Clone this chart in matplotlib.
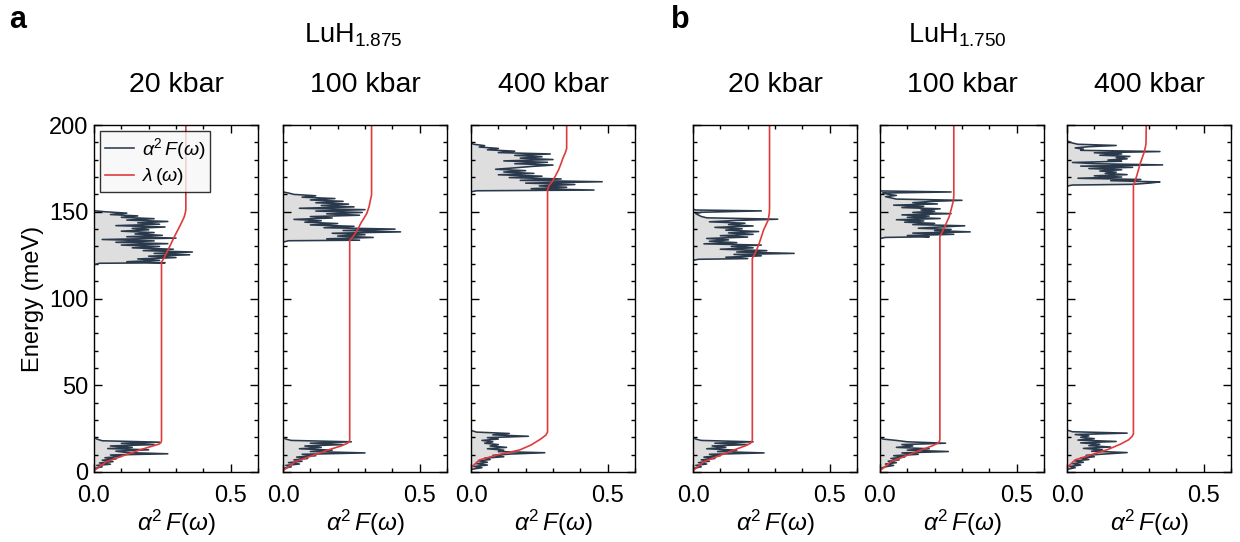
import numpy as np
import matplotlib
matplotlib.use("Agg")
import matplotlib.pyplot as plt
from matplotlib.ticker import MultipleLocator

plt.rcParams['font.family'] = ['Liberation Sans', 'DejaVu Sans']
plt.rcParams['mathtext.fontset'] = 'custom'
plt.rcParams['mathtext.rm'] = 'Liberation Sans'
plt.rcParams['mathtext.it'] = 'Liberation Sans:italic'

pressures = ["20 kbar", "100 kbar", "400 kbar"]
compounds = ["LuH$_{1.875}$", "LuH$_{1.750}$"]
panel_letters = ["a", "b"]

# a2F(w): low energy (Lu) band and high energy (H) band, energies in meV
p1_low_E = [2.0, 3.0, 3.8, 4.5, 5.2, 6.0, 6.8, 7.5, 8.2, 9.0, 9.8, 10.5, 11.2, 12.0, 12.8, 13.5, 14.2, 15.0, 15.8, 16.5, 17.2, 18.0, 19.0, 20.0]
p1_low_a = [0.0, 0.03, 0.01, 0.06, 0.02, 0.07, 0.03, 0.08, 0.04, 0.10, 0.06, 0.27, 0.12, 0.08, 0.20, 0.05, 0.14, 0.06, 0.22, 0.10, 0.24, 0.03, 0.01, 0.0]
p1_high_E = [119.5, 120.3, 120.6, 121.2, 122.0, 122.8, 123.6, 124.4, 125.2, 126.0, 126.8, 127.6, 128.4, 129.2, 130.0, 130.8, 131.6, 132.4, 133.2, 134.0, 134.8, 135.6, 136.4, 137.2, 138.0, 138.8, 139.6, 140.4, 141.2, 142.0, 142.8, 143.6, 144.4, 145.2, 146.0, 146.8, 147.6, 148.4, 149.2, 150.0, 150.6]
p1_high_a = [0.0, 0.02, 0.26, 0.12, 0.24, 0.16, 0.30, 0.20, 0.35, 0.22, 0.36, 0.18, 0.29, 0.14, 0.24, 0.10, 0.27, 0.08, 0.22, 0.03, 0.30, 0.12, 0.25, 0.15, 0.22, 0.10, 0.20, 0.14, 0.26, 0.08, 0.24, 0.16, 0.27, 0.12, 0.22, 0.10, 0.16, 0.06, 0.12, 0.04, 0.0]
p1_lam_E = [0, 0.8, 3.0, 5.9, 9.0, 12.7, 15.0, 16.1, 17.0, 18.0, 121.0, 123.0, 127.0, 131.0, 135.0, 139.0, 143.0, 147.0, 150.0, 152.0, 200]
p1_lam = [0, 0.0, 0.02, 0.045, 0.10, 0.167, 0.215, 0.238, 0.245, 0.247, 0.247, 0.255, 0.268, 0.28, 0.292, 0.305, 0.318, 0.33, 0.335, 0.336, 0.336]

p2_low_E = [2.0, 3.0, 3.8, 4.6, 5.4, 6.2, 7.0, 7.8, 8.6, 9.4, 10.2, 11.0, 11.8, 12.6, 13.4, 14.2, 15.0, 15.8, 16.6, 17.4, 18.2, 19.0, 20.0]
p2_low_a = [0.0, 0.03, 0.01, 0.06, 0.02, 0.07, 0.04, 0.09, 0.05, 0.12, 0.07, 0.30, 0.10, 0.18, 0.06, 0.14, 0.08, 0.22, 0.10, 0.25, 0.03, 0.01, 0.0]
p2_high_E = [132.5, 133.3, 133.6, 134.4, 135.2, 136.0, 136.8, 137.6, 138.4, 139.2, 140.0, 140.8, 141.6, 142.4, 143.2, 144.0, 144.8, 145.6, 146.4, 147.2, 148.0, 148.8, 149.6, 150.4, 151.2, 152.0, 152.8, 153.6, 154.4, 155.2, 156.0, 156.8, 157.6, 158.4, 159.2, 160.0, 160.8, 161.4]
p2_high_a = [0.0, 0.02, 0.28, 0.16, 0.33, 0.20, 0.30, 0.18, 0.43, 0.22, 0.41, 0.15, 0.26, 0.10, 0.20, 0.08, 0.14, 0.04, 0.18, 0.10, 0.28, 0.16, 0.29, 0.12, 0.30, 0.06, 0.26, 0.14, 0.24, 0.12, 0.22, 0.10, 0.19, 0.07, 0.12, 0.04, 0.02, 0.0]
p2_lam_E = [0, 0.8, 3.0, 6.0, 9.0, 12.7, 15.0, 16.5, 17.5, 18.5, 133.5, 136.0, 139.6, 143.5, 146.5, 149.2, 153.0, 156.9, 158.8, 160.0, 200]
p2_lam = [0, 0.0, 0.02, 0.045, 0.10, 0.165, 0.212, 0.235, 0.242, 0.244, 0.244, 0.258, 0.273, 0.285, 0.297, 0.307, 0.315, 0.32, 0.323, 0.324, 0.324]

p3_low_E = [1.5, 2.5, 3.2, 4.0, 4.8, 5.6, 6.4, 7.2, 8.0, 8.8, 9.6, 10.4, 11.1, 11.8, 12.6, 13.4, 14.2, 15.0, 15.8, 16.6, 17.4, 18.2, 19.0, 19.8, 20.6, 21.4, 22.2, 23.0, 24.0]
p3_low_a = [0.0, 0.04, 0.01, 0.06, 0.02, 0.06, 0.03, 0.07, 0.05, 0.12, 0.08, 0.15, 0.27, 0.10, 0.12, 0.06, 0.13, 0.07, 0.10, 0.05, 0.08, 0.04, 0.10, 0.06, 0.21, 0.08, 0.14, 0.02, 0.0]
p3_high_E = [161.5, 162.1, 162.5, 163.3, 164.1, 164.9, 165.7, 166.5, 167.3, 168.1, 168.9, 169.7, 170.5, 171.3, 172.1, 172.9, 173.7, 174.5, 175.3, 176.1, 176.9, 177.7, 178.5, 179.3, 180.1, 180.9, 181.7, 182.5, 183.3, 184.1, 184.9, 185.7, 186.5, 187.3, 188.1, 188.9, 189.6]
p3_high_a = [0.0, 0.02, 0.45, 0.22, 0.35, 0.25, 0.38, 0.20, 0.48, 0.18, 0.33, 0.14, 0.26, 0.10, 0.23, 0.12, 0.20, 0.09, 0.16, 0.22, 0.30, 0.16, 0.28, 0.12, 0.30, 0.18, 0.26, 0.16, 0.29, 0.10, 0.16, 0.06, 0.10, 0.03, 0.05, 0.01, 0.0]
p3_lam_E = [0, 2.5, 4.0, 6.9, 10.0, 12.7, 15.6, 19.0, 21.3, 23.0, 162.5, 165.0, 167.3, 171.0, 174.0, 178.0, 180.8, 184.0, 186.5, 200]
p3_lam = [0, 0.0, 0.01, 0.03, 0.10, 0.178, 0.22, 0.255, 0.274, 0.28, 0.28, 0.285, 0.297, 0.31, 0.32, 0.33, 0.336, 0.345, 0.35, 0.35]

p4_low_E = [2.0, 3.0, 3.8, 4.6, 5.4, 6.2, 7.0, 7.8, 8.6, 9.4, 10.2, 11.0, 11.8, 12.6, 13.4, 14.2, 15.0, 15.8, 16.6, 17.4, 18.2, 19.0, 20.0]
p4_low_a = [0.0, 0.03, 0.01, 0.05, 0.02, 0.06, 0.03, 0.08, 0.04, 0.10, 0.06, 0.26, 0.09, 0.16, 0.05, 0.12, 0.07, 0.20, 0.08, 0.22, 0.03, 0.01, 0.0]
p4_high_E = [122.0, 122.6, 123.0, 123.8, 124.6, 125.4, 126.0, 126.8, 127.6, 128.4, 129.2, 130.0, 130.8, 131.5, 132.2, 133.0, 133.8, 134.6, 135.4, 136.2, 137.0, 137.8, 138.6, 139.4, 140.2, 141.0, 141.8, 142.6, 143.4, 144.2, 145.0, 145.7, 146.5, 147.3, 148.1, 148.9, 149.7, 150.5, 151.0, 151.5]
p4_high_a = [0.0, 0.02, 0.20, 0.12, 0.25, 0.15, 0.37, 0.16, 0.27, 0.10, 0.22, 0.14, 0.25, 0.04, 0.16, 0.06, 0.13, 0.05, 0.20, 0.10, 0.22, 0.13, 0.24, 0.12, 0.18, 0.08, 0.22, 0.13, 0.19, 0.06, 0.16, 0.31, 0.05, 0.03, 0.02, 0.01, 0.03, 0.25, 0.01, 0.0]
p4_lam_E = [0, 0.8, 3.0, 6.0, 9.0, 12.7, 15.0, 16.5, 17.5, 18.5, 123.1, 126.9, 131.7, 135.5, 139.4, 145.2, 149.0, 152.0, 200]
p4_lam = [0, 0.0, 0.018, 0.04, 0.09, 0.15, 0.19, 0.21, 0.215, 0.217, 0.217, 0.23, 0.242, 0.25, 0.258, 0.275, 0.279, 0.28, 0.28]

p5_low_E = [2.0, 3.0, 3.8, 4.6, 5.4, 6.2, 7.0, 7.8, 8.6, 9.4, 10.2, 11.0, 11.8, 12.6, 13.4, 14.2, 15.0, 15.8, 16.6, 17.4, 18.2, 19.0, 20.0]
p5_low_a = [0.0, 0.02, 0.05, 0.02, 0.06, 0.03, 0.07, 0.04, 0.09, 0.05, 0.14, 0.08, 0.25, 0.10, 0.18, 0.06, 0.12, 0.08, 0.24, 0.10, 0.06, 0.01, 0.0]
p5_high_E = [134.6, 135.2, 135.6, 136.3, 137.0, 137.7, 138.4, 139.1, 139.8, 140.5, 141.2, 141.9, 142.6, 143.3, 144.0, 144.7, 145.4, 146.1, 146.8, 147.5, 148.2, 148.9, 149.6, 150.3, 151.0, 151.7, 152.4, 153.1, 153.8, 154.5, 155.2, 155.9, 156.6, 157.3, 158.0, 158.7, 159.4, 160.1, 160.8, 161.4, 162.0]
p5_high_a = [0.0, 0.02, 0.18, 0.10, 0.27, 0.12, 0.33, 0.20, 0.26, 0.14, 0.22, 0.31, 0.12, 0.20, 0.09, 0.16, 0.06, 0.22, 0.10, 0.18, 0.08, 0.26, 0.12, 0.20, 0.15, 0.22, 0.08, 0.16, 0.05, 0.21, 0.12, 0.18, 0.30, 0.06, 0.04, 0.02, 0.06, 0.03, 0.01, 0.26, 0.0]
p5_lam_E = [0, 0.8, 3.0, 6.0, 9.0, 12.7, 15.0, 16.5, 17.5, 18.5, 135.6, 138.5, 141.4, 144.3, 147.1, 150.0, 152.9, 156.7, 159.5, 200]
p5_lam = [0, 0.0, 0.018, 0.04, 0.09, 0.15, 0.19, 0.21, 0.217, 0.219, 0.219, 0.228, 0.237, 0.245, 0.253, 0.258, 0.263, 0.269, 0.27, 0.27]

p6_low_E = [1.5, 2.5, 3.2, 4.0, 4.8, 5.6, 6.4, 7.2, 8.0, 8.8, 9.6, 10.4, 11.2, 12.0, 12.8, 13.6, 14.4, 15.2, 16.0, 16.8, 17.6, 18.4, 19.2, 20.0, 20.8, 21.6, 22.4, 23.2, 24.2]
p6_low_a = [0.0, 0.03, 0.01, 0.05, 0.02, 0.06, 0.03, 0.08, 0.05, 0.10, 0.07, 0.14, 0.22, 0.09, 0.13, 0.06, 0.16, 0.08, 0.12, 0.05, 0.18, 0.04, 0.10, 0.05, 0.08, 0.03, 0.22, 0.02, 0.0]
p6_high_E = [164.8, 165.4, 165.8, 166.5, 167.2, 167.9, 168.6, 169.3, 170.0, 170.7, 171.4, 172.1, 172.8, 173.5, 174.2, 174.9, 175.6, 176.3, 177.0, 177.7, 178.4, 179.1, 179.8, 180.5, 181.2, 181.9, 182.6, 183.3, 184.0, 184.7, 185.4, 186.1, 186.8, 187.5, 188.2, 188.9, 189.6, 190.3, 190.8]
p6_high_a = [0.0, 0.02, 0.24, 0.30, 0.34, 0.16, 0.27, 0.04, 0.20, 0.10, 0.22, 0.14, 0.18, 0.12, 0.20, 0.08, 0.24, 0.05, 0.35, 0.10, 0.02, 0.20, 0.15, 0.22, 0.18, 0.23, 0.12, 0.20, 0.10, 0.34, 0.05, 0.06, 0.03, 0.08, 0.18, 0.04, 0.02, 0.01, 0.0]
p6_lam_E = [0, 2.5, 4.0, 7.0, 10.0, 13.0, 16.0, 18.5, 20.5, 22.0, 165.4, 168.0, 171.2, 174.5, 177.9, 181.0, 184.6, 187.5, 189.4, 200]
p6_lam = [0, 0.0, 0.01, 0.03, 0.09, 0.15, 0.195, 0.225, 0.238, 0.243, 0.243, 0.25, 0.256, 0.262, 0.268, 0.275, 0.283, 0.287, 0.289, 0.29]

panels = [
    (p1_low_E, p1_low_a, p1_high_E, p1_high_a, p1_lam_E, p1_lam),
    (p2_low_E, p2_low_a, p2_high_E, p2_high_a, p2_lam_E, p2_lam),
    (p3_low_E, p3_low_a, p3_high_E, p3_high_a, p3_lam_E, p3_lam),
    (p4_low_E, p4_low_a, p4_high_E, p4_high_a, p4_lam_E, p4_lam),
    (p5_low_E, p5_low_a, p5_high_E, p5_high_a, p5_lam_E, p5_lam),
    (p6_low_E, p6_low_a, p6_high_E, p6_high_a, p6_lam_E, p6_lam),
]

DARK = "#2a3a4c"
FILL = "#dedede"
RED = "#e03a3a"


def main():
    W, H = 1240, 542
    fig = plt.figure(figsize=(W / 100, H / 100), dpi=100)

    lefts = [94, 283, 471, 693, 880, 1067]
    bottom = 1 - 472 / H
    height = (472 - 125) / H
    width = 164 / W

    for i, (lE, la, hE, ha, lamE, lam) in enumerate(panels):
        ax = fig.add_axes([lefts[i] / W, bottom, width, height])
        for E, a in ((lE, la), (hE, ha)):
            ax.fill_betweenx(E, 0, a, color=FILL, lw=0)
            ax.plot(a, E, color=DARK, lw=1.15,
                    label=r"$\alpha^2\,F(\omega)$" if E is lE else None)
        ax.plot(lam, lamE, color=RED, lw=1.2, label=r"$\lambda\,(\omega)$")

        ax.set_xlim(0, 0.6)
        ax.set_ylim(0, 200)
        ax.xaxis.set_major_locator(MultipleLocator(0.5))
        ax.xaxis.set_minor_locator(MultipleLocator(0.1))
        ax.yaxis.set_major_locator(MultipleLocator(50))
        ax.yaxis.set_minor_locator(MultipleLocator(10))
        ax.xaxis.set_major_formatter(plt.FormatStrFormatter("%.1f"))
        ax.tick_params(which="both", direction="in", top=True, right=True,
                       labelsize=17, width=1.0)
        ax.tick_params(which="major", length=6, pad=4)
        ax.tick_params(axis="x", which="major", pad=9)
        ax.tick_params(which="minor", length=3)
        for s in ax.spines.values():
            s.set_linewidth(1.0)
        if i != 0:
            ax.set_yticklabels([])
        else:
            ax.set_ylabel("Energy (meV)", fontsize=17, labelpad=4)
            leg = ax.legend(loc="upper left", fontsize=14, frameon=True,
                            fancybox=False, edgecolor="black",
                            handlelength=1.5, handletextpad=0.4,
                            borderpad=0.25, labelspacing=0.25,
                            borderaxespad=0.3)
            leg.get_frame().set_facecolor("#f7f7f7")
            leg.get_frame().set_linewidth(1.0)
        ax.set_xlabel(r"$\alpha^2\,F(\omega)$", fontsize=17.5, labelpad=1)
        ax.set_title(pressures[i % 3], fontsize=20.5, pad=24)

    fig.text(18 / W, 1 - 20 / H, panel_letters[0], fontsize=22,
             fontweight="bold", ha="center", va="center")
    fig.text(680 / W, 1 - 20 / H, panel_letters[1], fontsize=22,
             fontweight="bold", ha="center", va="center")
    fig.text(353 / W, 1 - 35 / H, compounds[0], fontsize=19.5,
             ha="center", va="center")
    fig.text(957 / W, 1 - 35 / H, compounds[1], fontsize=19.5,
             ha="center", va="center")

    fig.savefig("out.png", dpi=100)


if __name__ == "__main__":
    main()
